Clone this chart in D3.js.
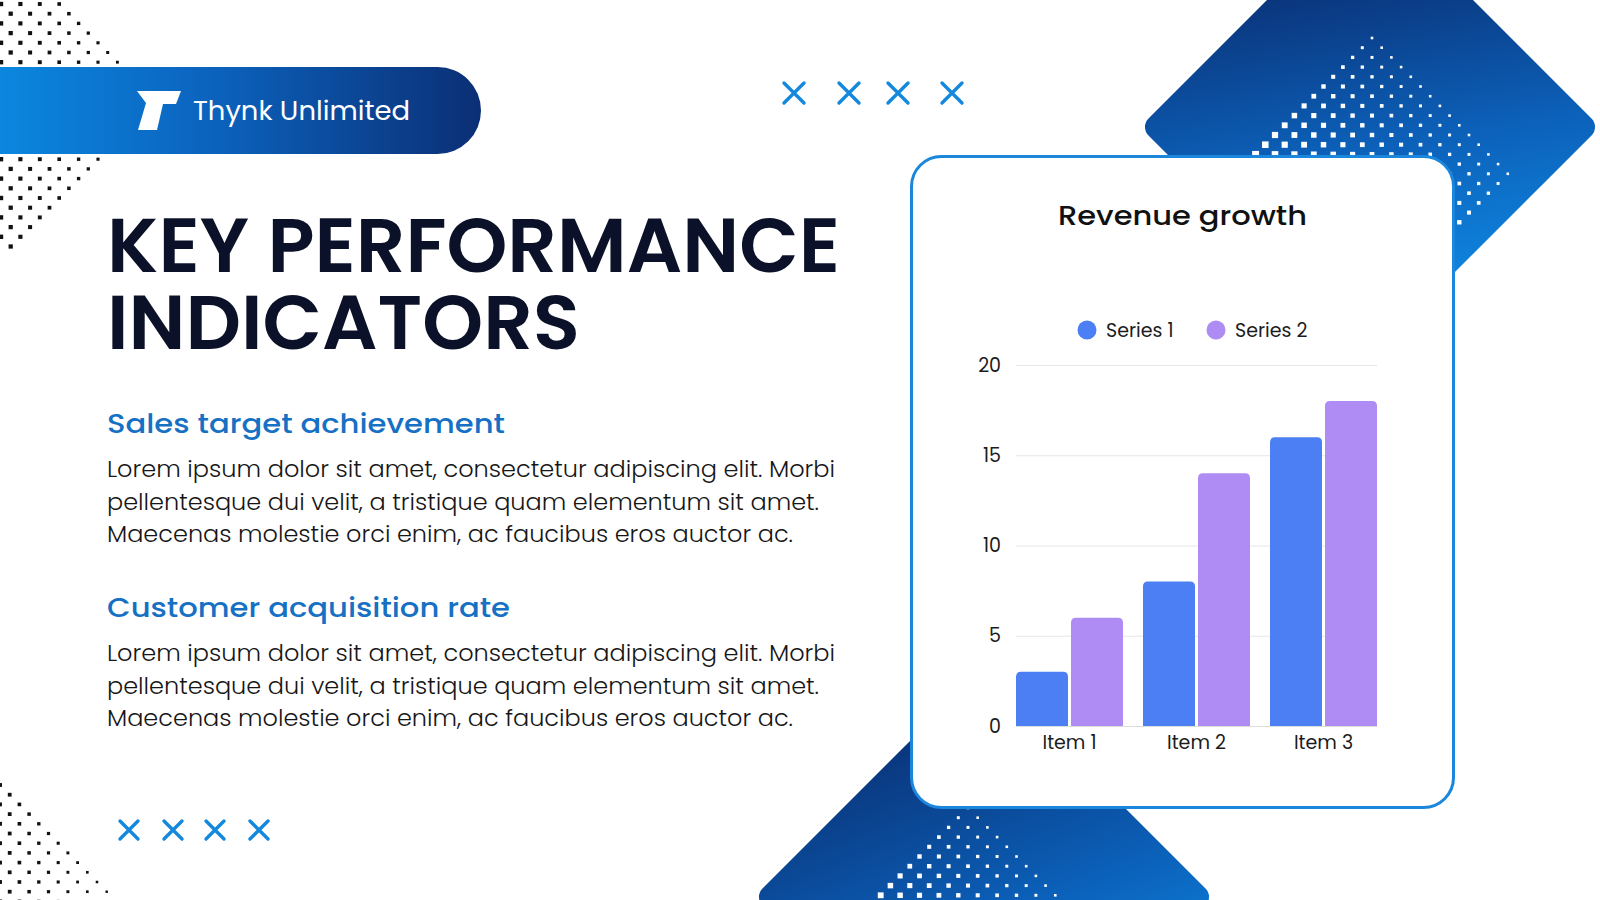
<!DOCTYPE html>
<html lang="en">
  <head>
    <meta charset="UTF-8" />
    <title>Key Performance Indicators</title>
    <script src="https://cdnjs.cloudflare.com/ajax/libs/d3/7.8.5/d3.min.js"></script>
    <style>
      html, body { margin: 0; padding: 0; background: #ffffff; }
      svg { display: block; font-family: Poppins, Inter, "Open Sans", sans-serif; }
    </style>
  </head>
  <body>
    <svg id="slide" width="1600" height="900"></svg>

    <script type="text/javascript">
      // chart data
      var categories = ["Item 1", "Item 2", "Item 3"];
      var seriesNames = ["Series 1", "Series 2"];
      var series1 = [3, 8, 16];
      var series2 = [6, 14, 18];
      var yTicks = [0, 5, 10, 15, 20];
      var seriesColors = ["#4b7ff3", "#ae8cf3"];

      // slide text
      var brand = "Thynk Unlimited";
      var headline = ["KEY PERFORMANCE", "INDICATORS"];
      var chartTitle = "Revenue growth";
      var sections = [
        {
          title: "Sales target achievement",
          lines: [
            "Lorem ipsum dolor sit amet, consectetur adipiscing elit. Morbi",
            "pellentesque dui velit, a tristique quam elementum sit amet.",
            "Maecenas molestie orci enim, ac faucibus eros auctor ac."
          ]
        },
        {
          title: "Customer acquisition rate",
          lines: [
            "Lorem ipsum dolor sit amet, consectetur adipiscing elit. Morbi",
            "pellentesque dui velit, a tristique quam elementum sit amet.",
            "Maecenas molestie orci enim, ac faucibus eros auctor ac."
          ]
        }
      ];

      var svg = d3.select("#slide");
      var defs = svg.append("defs");

      function linGrad(id, x1, y1, x2, y2, stops) {
        var gr = defs.append("linearGradient").attr("id", id)
          .attr("gradientUnits", "userSpaceOnUse")
          .attr("x1", x1).attr("y1", y1).attr("x2", x2).attr("y2", y2);
        stops.forEach(function (s) {
          gr.append("stop").attr("offset", s[0]).attr("stop-color", s[1]);
        });
      }
      linGrad("gPill", 0, 0, 480, 0, [[0, "#0b87df"], [0.45, "#0b62bd"], [1, "#0b2f75"]]);
      linGrad("gTR", 1230, 20, 1540, 240, [[0, "#0a2d70"], [0.5, "#0c5fb7"], [1, "#0f8ee9"]]);
      linGrad("gBot", 820, 760, 1180, 920, [[0, "#0a2f72"], [0.55, "#0b5eb6"], [1, "#0e8be6"]]);

      /* lattice of little squares used for the halftone decoration */
      function dots(g, x0, y0, aRange, kRange, inside, size, color) {
        for (var k = kRange[0]; k <= kRange[1]; k++) {
          for (var a = aRange[0]; a <= aRange[1]; a++) {
            if ((a + k) % 2 !== 0) continue;
            var x = x0 + a * 9.7, y = y0 + k * 9.7;
            if (!inside(x, y, a, k)) continue;
            var s = size(x, y, a, k);
            g.append("rect")
              .attr("x", x - s / 2).attr("y", y - s / 2)
              .attr("width", s).attr("height", s)
              .attr("fill", color);
          }
        }
      }

      function diamond(cx, cy, hd, fill) {
        var side = hd * Math.SQRT2;
        svg.append("rect")
          .attr("x", cx - side / 2).attr("y", cy - side / 2)
          .attr("width", side).attr("height", side)
          .attr("rx", 12)
          .attr("transform", "rotate(45," + cx + "," + cy + ")")
          .attr("fill", fill);
      }

      // blue diamonds behind the card
      diamond(1370, 127, 230, "url(#gTR)");
      diamond(984, 897, 230, "url(#gBot)");

      var deco = svg.append("g");
      dots(deco, 1372, 38, [-14, 14], [0, 28],
        function (x, y, a, k) { return Math.abs(a) + Math.abs(k - 14) <= 14; },
        function (x, y, a, k) { return 2.6 + (k - a) * 0.18; }, "#ffffff");
      dots(deco, 968, 808, [-12, 12], [0, 12],
        function (x, y, a, k) { return Math.abs(a) <= k && y < 905; },
        function (x, y, a, k) { return 2.6 + (k - a) * 0.18; }, "#ffffff");

      // black halftone, top-left and bottom-left
      dots(deco, 1, 4, [-2, 20], [-1, 28],
        function (x, y) { return Math.abs(x - 15) + Math.abs(y - 110) <= 151 && x > -3; },
        function (x) { return 4.4 - x * 0.013; }, "#111111");
      dots(deco, 0, 785, [0, 14], [0, 12],
        function (x, y) { return x <= y - 784 && x > -3 && y < 905; },
        function (x) { return 3.9 - x * 0.014; }, "#111111");

      // brand pill
      svg.append("path")
        .attr("d", "M0,67 H437.5 A43.5,43.5 0 0 1 437.5,154 H0 Z")
        .attr("fill", "url(#gPill)");
      svg.append("polygon")
        .attr("points", "137,91 181,91 176,104 163,104 157,130 138,130 146,103")
        .attr("fill", "#ffffff");
      svg.append("text")
        .attr("x", 193).attr("y", 120)
        .attr("textLength", 217).attr("lengthAdjust", "spacingAndGlyphs")
        .attr("font-size", 27).attr("fill", "#ffffff")
        .text(brand);

      // crosses
      var crossTop = [794, 849, 898, 952];
      var crossBot = [129, 173, 215, 259];
      function crosses(xs, y, h) {
        xs.forEach(function (x) {
          svg.append("path")
            .attr("d", "M" + (x - h) + "," + (y - h) + "L" + (x + h) + "," + (y + h) +
              "M" + (x + h) + "," + (y - h) + "L" + (x - h) + "," + (y + h))
            .attr("stroke", "#1488dc").attr("stroke-width", 3.4)
            .attr("stroke-linecap", "round").attr("fill", "none");
        });
      }
      crosses(crossTop, 93, 10);
      crosses(crossBot, 830, 9);

      // headline, one text block with a tspan per line
      var headWidths = [733, 473];
      var head = svg.append("text")
        .attr("font-size", 76).attr("font-weight", 600)
        .attr("fill", "#0a1128");
      headline.forEach(function (t, i) {
        head.append("tspan")
          .attr("x", 107).attr("y", 272 + i * 77)
          .attr("textLength", headWidths[i]).attr("lengthAdjust", "spacingAndGlyphs")
          .text(t);
      });

      // sections
      var secTitleY = [433, 617];
      var secTitleW = [398, 403];
      var lineW = [728, 712, 686];
      sections.forEach(function (s, i) {
        svg.append("text")
          .attr("x", 107).attr("y", secTitleY[i])
          .attr("textLength", secTitleW[i]).attr("lengthAdjust", "spacingAndGlyphs")
          .attr("font-size", 27).attr("font-weight", 500)
          .attr("fill", "#1670c4")
          .text(s.title);
        s.lines.forEach(function (l, j) {
          svg.append("text")
            .attr("x", 107).attr("y", secTitleY[i] + 44 + j * 32.5)
            .attr("textLength", lineW[j]).attr("lengthAdjust", "spacingAndGlyphs")
            .attr("font-size", 22.5).attr("font-weight", 300).attr("fill", "#161616")
            .text(l);
        });
      });

      // chart card
      svg.append("rect")
        .attr("x", 911.5).attr("y", 156.5)
        .attr("width", 542).attr("height", 651)
        .attr("rx", 30)
        .attr("fill", "#ffffff")
        .attr("stroke", "#1a87dc").attr("stroke-width", 3);

      svg.append("text")
        .attr("x", 1182.5).attr("y", 225)
        .attr("text-anchor", "middle")
        .attr("textLength", 249).attr("lengthAdjust", "spacingAndGlyphs")
        .attr("font-size", 26).attr("font-weight", 500).attr("fill", "#111111")
        .text(chartTitle);

      // legend
      var legendX = [1087, 1216];
      var legend = svg.append("g").selectAll("g")
        .data(seriesNames).enter().append("g")
        .attr("transform", function (d, i) { return "translate(" + legendX[i] + ",330)"; });
      legend.append("circle").attr("r", 9.5)
        .attr("fill", function (d, i) { return seriesColors[i]; });
      legend.append("text").attr("x", 19).attr("y", 7)
        .attr("font-size", 19).attr("fill", "#1c1c1c")
        .text(function (d) { return d; });

      // scales
      var x0 = d3.scaleBand().domain(categories).range([1016, 1377])
        .paddingInner(20 / 127).paddingOuter(0);
      var x1 = d3.scaleBand().domain(seriesNames).range([0, x0.bandwidth()])
        .paddingInner(3 / 55).paddingOuter(0);
      var y = d3.scaleLinear().domain([0, 20]).range([726, 365]);

      // gridlines
      var grid = svg.append("g").attr("transform", "translate(1016,0)")
        .call(d3.axisLeft(y).tickValues(yTicks).tickSize(-361).tickFormat(""));
      grid.select(".domain").remove();
      grid.selectAll("line").attr("stroke", "#e6e6e6");

      var yAxis = svg.append("g").attr("transform", "translate(1016,0)")
        .call(d3.axisLeft(y).tickValues(yTicks).tickSize(0).tickPadding(15));
      yAxis.select(".domain").remove();
      yAxis.selectAll("text").attr("font-size", 19).attr("fill", "#1c1c1c")
        .attr("font-family", "Poppins, Inter, sans-serif");

      // bars
      var rows = categories.map(function (c, i) {
        return { cat: c, vals: [series1[i], series2[i]] };
      });
      function topRounded(x, yTop, w, h, r) {
        r = Math.min(r, h, w / 2);
        return "M" + x + "," + (yTop + h) + "V" + (yTop + r) +
          "Q" + x + "," + yTop + " " + (x + r) + "," + yTop +
          "H" + (x + w - r) +
          "Q" + (x + w) + "," + yTop + " " + (x + w) + "," + (yTop + r) +
          "V" + (yTop + h) + "Z";
      }
      svg.append("g").selectAll("g")
        .data(rows).enter().append("g")
        .attr("transform", function (d) { return "translate(" + x0(d.cat) + ",0)"; })
        .selectAll("path")
        .data(function (d) { return d.vals.map(function (v, i) { return { name: seriesNames[i], v: v, i: i }; }); })
        .enter().append("path")
        .attr("d", function (d) {
          return topRounded(x1(d.name), y(d.v), x1.bandwidth(), y(0) - y(d.v), 5);
        })
        .attr("fill", function (d) { return seriesColors[d.i]; });

      var xAxis = svg.append("g").attr("transform", "translate(0,726)")
        .call(d3.axisBottom(x0).tickSize(0).tickPadding(10));
      xAxis.select(".domain").attr("stroke", "#dcdcdc");
      xAxis.selectAll("text").attr("font-size", 19).attr("fill", "#1c1c1c")
        .attr("font-family", "Poppins, Inter, sans-serif");
    </script>
  </body>
</html>
